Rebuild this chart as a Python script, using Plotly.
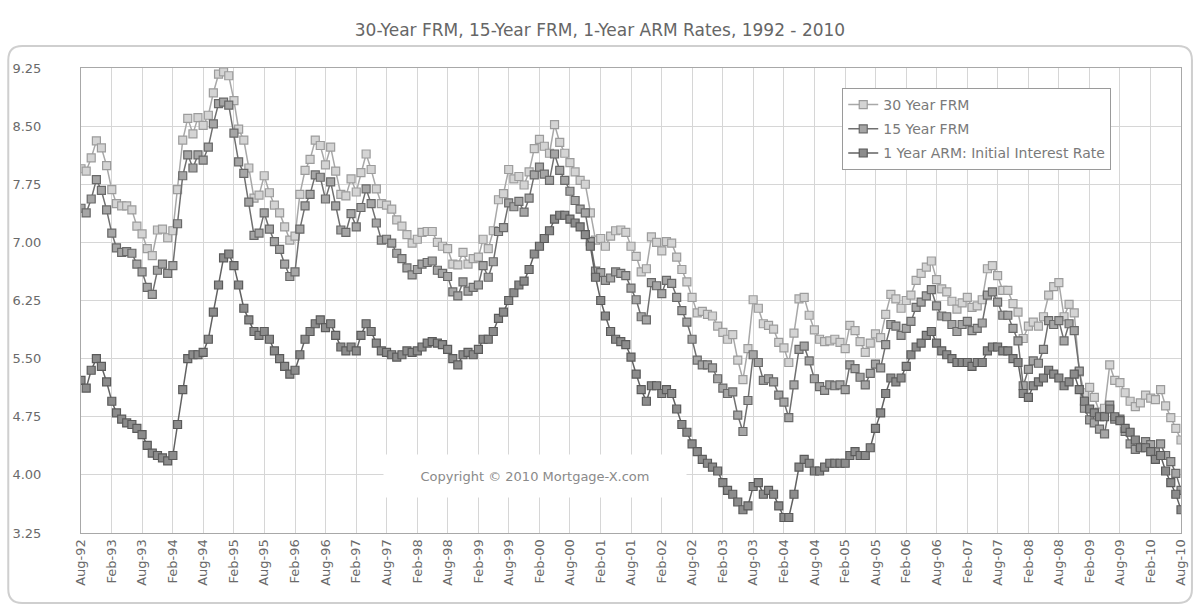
import pandas as pd
import plotly.graph_objects as go

# Monthly values, Aug-1992 .. Aug-2010
months = pd.date_range("1992-08-01", "2010-08-01", freq="MS")

frm30 = [
    7.95, 7.92, 8.09, 8.31, 8.22,
    7.99, 7.68, 7.50, 7.47, 7.47, 7.42, 7.21, 7.11, 6.92, 6.83, 7.16, 7.17,
    7.06, 7.15, 7.68, 8.32, 8.60, 8.40, 8.61, 8.51, 8.64, 8.93, 9.17, 9.20,
    9.15, 8.83, 8.46, 8.32, 7.96, 7.57, 7.61, 7.86, 7.64, 7.48, 7.38, 7.20,
    7.03, 7.08, 7.62, 7.93, 8.07, 8.32, 8.25, 8.00, 8.23, 7.92, 7.62, 7.60,
    7.82, 7.65, 7.90, 8.14, 7.94, 7.69, 7.50, 7.48, 7.43, 7.29, 7.21, 7.10,
    6.99, 7.04, 7.13, 7.14, 7.14, 7.00, 6.95, 6.92, 6.72, 6.71, 6.87, 6.72,
    6.79, 6.81, 7.04, 6.92, 7.15, 7.55, 7.63, 7.94, 7.82, 7.85, 7.74, 7.91,
    8.21, 8.33, 8.24, 8.15, 8.52, 8.29, 8.15, 8.03, 7.91, 7.80, 7.75, 7.38,
    7.03, 7.05, 6.95, 7.08, 7.15, 7.16, 7.13, 6.95, 6.82, 6.62, 6.66, 7.07,
    7.00, 6.89, 7.01, 6.99, 6.81, 6.65, 6.49, 6.29, 6.09, 6.11, 6.07, 6.05,
    5.92, 5.84, 5.75, 5.81, 5.48, 5.23, 5.63, 6.26, 6.15, 5.95, 5.93, 5.88,
    5.71, 5.64, 5.45, 5.83, 6.27, 6.29, 6.06, 5.87, 5.75, 5.72, 5.73, 5.75,
    5.71, 5.63, 5.93, 5.86, 5.72, 5.58, 5.70, 5.82, 5.77, 6.07, 6.33, 6.27,
    6.15, 6.25, 6.32, 6.51, 6.60, 6.68, 6.76, 6.52, 6.40, 6.36, 6.24, 6.14,
    6.22, 6.29, 6.16, 6.18, 6.26, 6.66, 6.70, 6.57, 6.38, 6.38, 6.21, 6.10,
    5.76, 5.92, 5.97, 5.92, 6.04, 6.32, 6.43, 6.48, 6.04, 6.20, 6.09, 5.33,
    5.06, 5.13, 5.00, 4.81, 4.86, 5.42, 5.22, 5.19, 5.06, 4.95, 4.88, 4.93,
    5.03, 4.99, 4.97, 5.10, 4.89, 4.74, 4.60, 4.45,
]

frm15 = [
    7.44, 7.38, 7.56, 7.81, 7.67,
    7.42, 7.12, 6.93, 6.87, 6.88, 6.86, 6.72, 6.62, 6.42, 6.33, 6.64, 6.72,
    6.60, 6.70, 7.24, 7.86, 8.13, 7.96, 8.13, 8.06, 8.23, 8.53, 8.79, 8.81,
    8.77, 8.41, 8.04, 7.89, 7.52, 7.09, 7.12, 7.38, 7.17, 7.01, 6.91, 6.72,
    6.56, 6.62, 7.17, 7.47, 7.62, 7.87, 7.84, 7.56, 7.78, 7.47, 7.16, 7.13,
    7.37, 7.20, 7.45, 7.69, 7.50, 7.25, 7.03, 7.04, 6.99, 6.86, 6.79, 6.67,
    6.58, 6.65, 6.72, 6.74, 6.76, 6.64, 6.60, 6.56, 6.36, 6.31, 6.49, 6.37,
    6.42, 6.45, 6.70, 6.55, 6.75, 7.14, 7.19, 7.51, 7.46, 7.53, 7.39, 7.57,
    7.87, 7.97, 7.88, 7.80, 8.14, 7.93, 7.80, 7.66, 7.54, 7.43, 7.38, 7.01,
    6.63, 6.61, 6.51, 6.54, 6.62, 6.60, 6.57, 6.41, 6.26, 6.04, 6.00, 6.48,
    6.44, 6.34, 6.51, 6.47, 6.29, 6.12, 5.97, 5.75, 5.48, 5.42, 5.42, 5.38,
    5.24, 5.12, 5.05, 5.07, 4.77, 4.56, 4.96, 5.55, 5.45, 5.22, 5.24, 5.20,
    5.03, 4.94, 4.74, 5.16, 5.62, 5.66, 5.47, 5.24, 5.14, 5.09, 5.16, 5.15,
    5.16, 5.10, 5.42, 5.37, 5.26, 5.16, 5.31, 5.43, 5.38, 5.68, 5.94, 5.92,
    5.80, 5.89, 5.98, 6.16, 6.23, 6.31, 6.39, 6.18, 6.05, 6.04, 5.94, 5.85,
    5.94, 5.98, 5.86, 5.89, 5.96, 6.32, 6.36, 6.23, 6.06, 6.06, 5.89, 5.73,
    5.15, 5.36, 5.47, 5.44, 5.62, 5.99, 5.94, 5.99, 5.73, 5.95, 5.86, 5.34,
    4.86, 4.71, 4.67, 4.59, 4.53, 4.90, 4.72, 4.72, 4.56, 4.40, 4.33, 4.36,
    4.43, 4.39, 4.30, 4.40, 4.25, 4.17, 4.02, 3.80,
]

arm1 = [
    5.22, 5.12, 5.35, 5.50, 5.40,
    5.20, 4.95, 4.80, 4.72, 4.67, 4.65, 4.60, 4.52, 4.38, 4.28, 4.25, 4.22,
    4.18, 4.25, 4.65, 5.10, 5.50, 5.55, 5.55, 5.58, 5.75, 6.10, 6.45, 6.80,
    6.85, 6.70, 6.45, 6.15, 6.00, 5.85, 5.80, 5.85, 5.75, 5.60, 5.50, 5.40,
    5.30, 5.35, 5.55, 5.75, 5.85, 5.95, 6.00, 5.90, 5.95, 5.80, 5.65, 5.60,
    5.65, 5.60, 5.80, 5.95, 5.85, 5.70, 5.60, 5.58, 5.55, 5.52, 5.55, 5.60,
    5.58, 5.60, 5.65, 5.70, 5.72, 5.70, 5.68, 5.62, 5.50, 5.42, 5.55, 5.58,
    5.55, 5.62, 5.75, 5.75, 5.85, 6.02, 6.10, 6.25, 6.35, 6.45, 6.50, 6.65,
    6.85, 6.95, 7.05, 7.15, 7.30, 7.35, 7.35, 7.30, 7.25, 7.20, 7.10, 6.95,
    6.55, 6.25, 6.05, 5.85, 5.75, 5.72, 5.68, 5.52, 5.30, 5.10, 4.95, 5.15,
    5.15, 5.05, 5.10, 5.05, 4.85, 4.65, 4.55, 4.40, 4.30, 4.20, 4.15, 4.10,
    4.05, 3.90, 3.80, 3.75, 3.65, 3.55, 3.60, 3.85, 3.90, 3.75, 3.80, 3.75,
    3.60, 3.45, 3.45, 3.75, 4.10, 4.20, 4.15, 4.05, 4.05, 4.10, 4.15, 4.15,
    4.15, 4.15, 4.25, 4.30, 4.25, 4.25, 4.35, 4.60, 4.80, 5.05, 5.25, 5.20,
    5.25, 5.40, 5.55, 5.65, 5.70, 5.80, 5.85, 5.70, 5.60, 5.55, 5.50, 5.45,
    5.45, 5.45, 5.40, 5.45, 5.45, 5.60, 5.65, 5.65, 5.60, 5.60, 5.50, 5.45,
    5.05, 5.00, 5.15, 5.20, 5.25, 5.35, 5.30, 5.25, 5.15, 5.20, 5.30, 5.10,
    4.95, 4.85, 4.80, 4.75, 4.75, 4.85, 4.75, 4.70, 4.60, 4.55, 4.45, 4.35,
    4.35, 4.30, 4.20, 4.25, 4.05, 3.90, 3.75, 3.55,
]

series_names = ["30 Year FRM", "15 Year FRM", "1 Year ARM: Initial Interest Rate"]
y_ticks = [3.25, 4.00, 4.75, 5.50, 6.25, 7.00, 7.75, 8.50, 9.25]
x_tick_dates = pd.date_range("1992-08-01", "2010-08-01", freq="6MS")
x_tick_text = [d.strftime("%b-%y") for d in x_tick_dates]

title_text = "30-Year FRM, 15-Year FRM, 1-Year ARM Rates, 1992 - 2010"
copyright_text = "Copyright © 2010 Mortgage-X.com"

styles = [
    dict(line="#a8a8a8", mfill="#d4d4d4", mline="#9c9c9c"),
    dict(line="#707070", mfill="#a6a6a6", mline="#686868"),
    dict(line="#626262", mfill="#8c8c8c", mline="#5a5a5a"),
]

FONT = "DejaVu Sans, Verdana, sans-serif"

fig = go.Figure()
for name, vals, st in zip(series_names, [frm30, frm15, arm1], styles):
    fig.add_trace(go.Scatter(
        x=months, y=vals, name=name, mode="lines+markers",
        legendgroup=name,
        line=dict(color=st["line"], width=1.5),
        marker=dict(symbol="square", size=8, color=st["mfill"],
                    line=dict(color=st["mline"], width=1.2)),
    ))

W, H = 1200, 607
L, R, T, B = 79, 17, 68, 74
pw, ph = W - L - R, H - T - B

def px(x):
    return (x - L) / pw

def py(y):
    return (H - B - y) / ph

# rounded outer frame in paper coords
x0, x1 = px(6), px(1194)
y0, y1 = py(603), py(46)
rx, ry = 14 / pw, 14 / ph
frame_path = (
    f"M {x0+rx},{y1} L {x1-rx},{y1} Q {x1},{y1} {x1},{y1-ry} "
    f"L {x1},{y0+ry} Q {x1},{y0} {x1-rx},{y0} "
    f"L {x0+rx},{y0} Q {x0},{y0} {x0},{y0+ry} "
    f"L {x0},{y1-ry} Q {x0},{y1} {x0+rx},{y1} Z"
)

fig.update_layout(
    width=W, height=H,
    margin=dict(l=L, r=R, t=T, b=B),
    paper_bgcolor="white", plot_bgcolor="white",
    font=dict(family=FONT, color="#6a6a6a"),
    title=dict(text=title_text, x=0.5, xanchor="center", y=1 - 30 / H,
               yanchor="middle", font=dict(size=17, color="#666666")),
    showlegend=True,
    legend=dict(x=px(843), y=py(88), xanchor="left", yanchor="top",
                bgcolor="white", bordercolor="#9a9a9a", borderwidth=1,
                font=dict(size=14, color="#7a7a7a"), tracegroupgap=3),
    shapes=[dict(type="path", path=frame_path, xref="paper", yref="paper",
                 line=dict(color="#cfcfcf", width=2), layer="below")],
    annotations=[dict(text=copyright_text, xref="paper", yref="paper",
                      x=px(535), y=py(498), showarrow=False,
                      font=dict(size=13, color="#8a8a8a"),
                      bgcolor="white", width=300, height=40)],
)

fig.update_xaxes(
    type="date", range=[x_tick_dates[0], x_tick_dates[-1]],
    tickmode="array", tickvals=list(x_tick_dates), ticktext=x_tick_text,
    tickangle=-90, tickfont=dict(size=13, color="#6a6a6a"),
    showgrid=True, gridcolor="#d6d6d6", gridwidth=1,
    showline=True, linecolor="#a8a8a8", linewidth=1, mirror=True,
    ticks="", zeroline=False,
)
fig.update_yaxes(
    range=[3.25, 9.25], tickmode="array", tickvals=y_ticks,
    tickformat=".2f", tickfont=dict(size=13, color="#6a6a6a"),
    ticklabelstandoff=36,
    showgrid=True, gridcolor="#d6d6d6", gridwidth=1,
    showline=True, linecolor="#a8a8a8", linewidth=1, mirror=True,
    ticks="", zeroline=False,
)

fig.write_html("out.html",
               config={"displayModeBar": False},
               post_script="document.body.style.margin='0px';document.body.style.overflow='hidden';")
